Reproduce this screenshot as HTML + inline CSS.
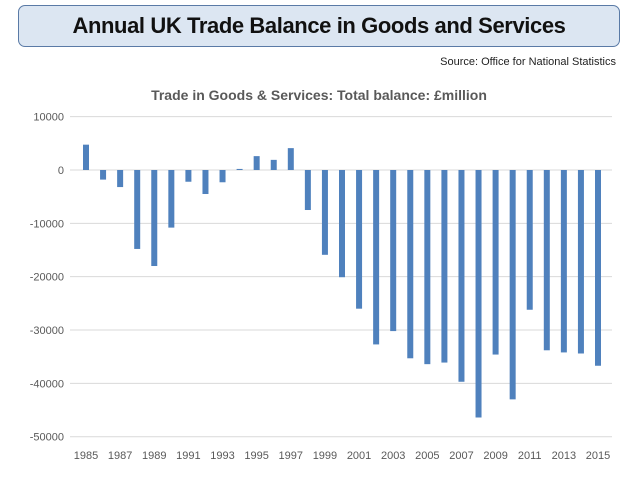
<!DOCTYPE html>
<html><head><meta charset="utf-8"><style>
body{margin:0;width:638px;height:479px;background:#fff;font-family:"Liberation Sans",sans-serif;overflow:hidden;position:relative}
#title-box{position:absolute;left:18px;top:5px;width:602px;height:42px;background:#dce6f2;border:1.5px solid #5a7aa6;border-radius:7px;box-sizing:border-box;text-align:center;font-weight:bold;font-size:22px;line-height:40px;color:#111;letter-spacing:-0.4px}
#source{position:absolute;right:22px;top:56px;font-size:11px;color:#222}
</style></head><body>
<div id="title-box">Annual UK Trade Balance in Goods and Services</div>
<div id="source">Source: Office for National Statistics</div>
<svg id="chart" width="638" height="479" style="position:absolute;left:0;top:0"></svg>
<script>
const years=[1985,1986,1987,1988,1989,1990,1991,1992,1993,1994,1995,1996,1997,1998,1999,2000,2001,2002,2003,2004,2005,2006,2007,2008,2009,2010,2011,2012,2013,2014,2015];
const balance=[4750,-1800,-3200,-14800,-18000,-10800,-2200,-4500,-2300,200,2600,1900,4100,-7500,-15900,-20100,-26000,-32700,-30200,-35300,-36400,-36100,-39700,-46400,-34600,-43000,-26200,-33800,-34200,-34400,-36700];
const yTicks=[10000,0,-10000,-20000,-30000,-40000,-50000];
const NS='http://www.w3.org/2000/svg';
const svg=document.getElementById('chart');
const x0=86,dx=(598-86)/30;
function xs(i){return x0+i*dx;}
function ys(v){return 170-v*(266.7/50000);}
function mk(t,a){const e=document.createElementNS(NS,t);for(const k in a)e.setAttribute(k,a[k]);svg.appendChild(e);return e;}
const ct=mk('text',{x:319,y:100,'text-anchor':'middle','font-size':'14','fill':'#595959','font-weight':'bold'});
ct.textContent='Trade in Goods & Services: Total balance: £million';


yTicks.forEach(v=>{
 const g=mk('line',{x1:70,x2:612,y1:ys(v),y2:ys(v),stroke:'#d9d9d9','stroke-width':1});
 
 
 const t=mk('text',{x:64,y:ys(v)+4,'text-anchor':'end','font-size':'11',fill:'#595959'});
 t.textContent=v;
 
 
});
balance.forEach((v,i)=>{
 const y=Math.min(ys(v),ys(0)),h=Math.abs(ys(v)-ys(0));
 const r=mk('rect',{x:xs(i)-3,y:y,width:6,height:Math.max(h,0.8),fill:'#4f81bd'});
 
 
});
years.forEach((yr,i)=>{
 if(i%2)return;
 const t=mk('text',{x:xs(i),y:459,'text-anchor':'middle','font-size':'11',fill:'#595959'});
 t.textContent=yr;
 
 
});
</script>
</body></html>
